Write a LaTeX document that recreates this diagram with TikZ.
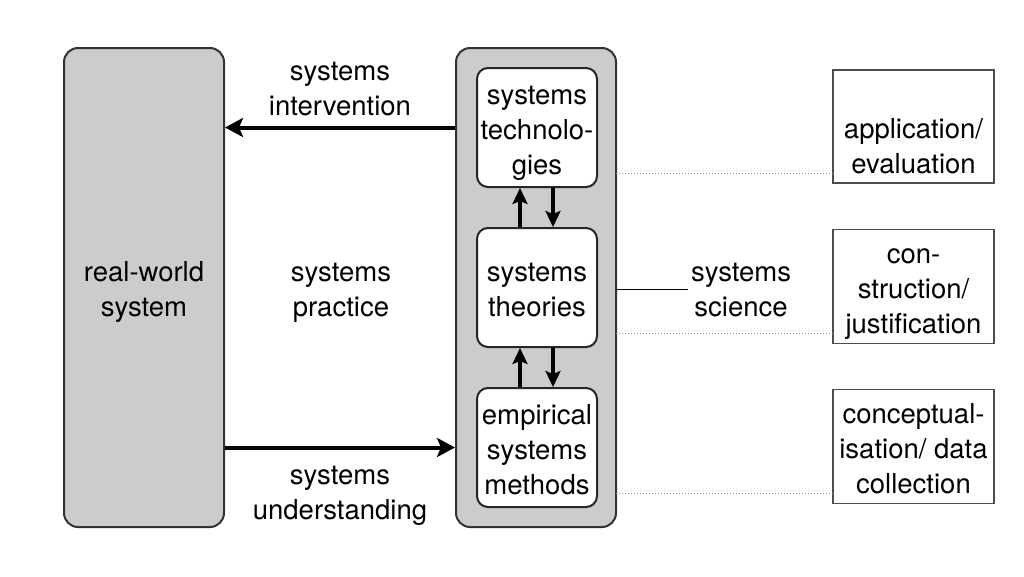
\documentclass[tikz,border=0pt]{standalone}
\usepackage{fontspec}
\setmainfont{TeX Gyre Heros}
\usetikzlibrary{arrows.meta}
\def\bigfont{\fontsize{27.5}{35}\selectfont}
\def\ts{\rule{0pt}{34pt}}
\def\bs{\rule[-10.5pt]{0pt}{10.5pt}}

\tikzset{
  grey box/.style={draw=black!80, line width=2pt, fill=black!20, rounded corners=14pt,
    minimum width=160pt, minimum height=479pt, align=center, inner sep=0pt},
  inner box/.style={draw=black!85, line width=2pt, fill=white, rounded corners=11pt,
    minimum width=120pt, minimum height=119pt, align=center, inner sep=0pt},
  side box/.style={draw=black!70, line width=1.2pt, minimum width=161pt,
    minimum height=113pt, align=center, inner sep=0pt},
  txt/.style={align=center, inner sep=3pt},
  flow/.style={-{Stealth[length=18pt,width=19pt,inset=4pt]}, line width=4pt},
  swap/.style={-{Stealth[length=16pt,width=15pt,inset=3pt]}, line width=4pt},
  dotline/.style={draw=black!45, dotted, line width=1pt}
}

\begin{document}
\begin{tikzpicture}[x=1pt, y=-1pt, font=\bigfont]
\useasboundingbox (0,0) rectangle (1024,576);

          \node [grey box] at (144,287.5) (rws) {\ts real-world\\system\bs};
          \node [grey box] at (536,287.5) (frame) {};
%
             \node [inner box] at (537,127.5) (tech) {\ts systems\\technolo-\\gies\bs};
             \node [inner box] at (537,287.5) (theories) {\ts systems\\theories\bs};
             \node [inner box] at (537,447.5) (methods) {\ts empirical\\systems\\methods\bs};
%
                \node [txt] at (340,86) (intervention) {\ts systems\\intervention\bs};
                \node [txt] at (341,287.5) (practice) {\ts systems\\practice\bs};
                \node [txt] at (340,490) (understanding) {\ts systems\\understanding\bs};
                \node [txt] at (741,287.5) (science) {\ts systems\\science\bs};
%
                  \node [side box] at (913.5,126.5) (app) {};
                  \node [txt] at (913.5,144) (app text) {\ts application/\\evaluation\bs};
                  \node [side box] at (913.5,286.5) (cons) {\ts con-\\struction/\\justification\bs};
                  \node [side box] at (913.5,446.5) (conc) {\ts conceptual-\\isation/ data\\collection\bs};
%
\coordinate (d1) at (616,173);
\coordinate (d2) at (616,333);
\coordinate (d3) at (616,493);
%
\path[flow] (frame.west |- tech) edge (rws.east |- tech);
\path[flow] (rws.east |- methods) edge (frame.west |- methods);
\path[swap] ([xshift=-17pt]theories.north) edge ([xshift=-17pt]tech.south);
\path[swap] ([xshift=16pt]tech.south) edge ([xshift=16pt]theories.north);
\path[swap] ([xshift=-17pt]methods.north) edge ([xshift=-17pt]theories.south);
\path[swap] ([xshift=16pt]theories.south) edge ([xshift=16pt]methods.north);
\draw[line width=1pt] (frame.east |- 0,289) -- (science.west |- 0,289);
\draw[dotline] (d1) -- (app.west |- d1);
\draw[dotline] (d2) -- (cons.west |- d2);
\draw[dotline] (d3) -- (conc.west |- d3);

\end{tikzpicture}
\end{document}
